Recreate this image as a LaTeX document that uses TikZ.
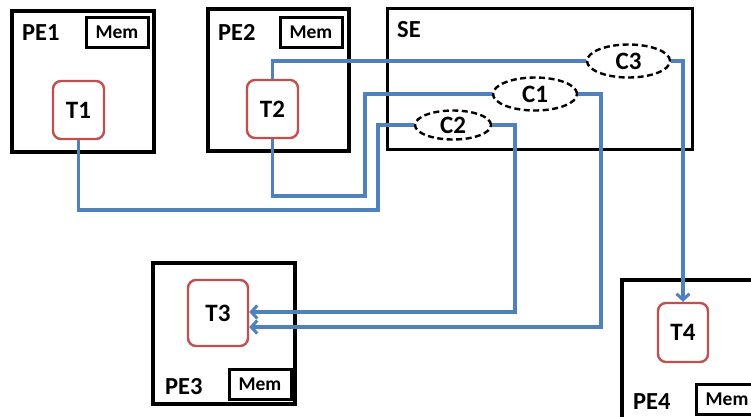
\documentclass[tikz,border=0pt]{standalone}
\usepackage{fontspec}
\setmainfont{Carlito}
\usetikzlibrary{arrows.meta,shapes.geometric,positioning}
\definecolor{linkblue}{HTML}{4F81BD}
\definecolor{taskred}{HTML}{C0504D}
\tikzset{
  pebox/.style={draw=black,line width=3.2pt,minimum width=#1,inner sep=0pt},
  membox/.style={draw=black,line width=3pt,minimum width=62pt,minimum height=30pt,inner sep=0pt,font=\fontsize{19.5}{19.5}\bfseries\selectfont},
  task/.style={draw=taskred,line width=2.4pt,rounded corners=8pt,minimum width=51pt,minimum height=58pt,inner sep=0pt,font=\fontsize{25}{25}\bfseries\selectfont},
  chan/.style={ellipse,draw=black,dash pattern=on 6pt off 3.5pt,line width=2.4pt,inner sep=0pt,font=\fontsize{25}{25}\bfseries\selectfont},
  lbl/.style={anchor=west,inner sep=0pt,font=\fontsize{24.5}{24.5}\bfseries\selectfont},
  link/.style={draw=linkblue,line width=3.4pt},
  tip/.style={-{Straight Barb[length=6pt,width=13pt,line width=3pt]}}
}
\begin{document}
\begin{tikzpicture}[x=1pt,y=-1pt]
\useasboundingbox (0,0) rectangle (751,416);
\clip (0,0) rectangle (751,416);
\fill[white] (0,0) rectangle (751,416);
% PE boxes
\node[pebox=142pt,minimum height=141pt] (pe1) at (83,81.5) {};
\node[pebox=141pt,minimum height=142pt] (pe2) at (278.5,80) {};
\node[pebox=305pt,minimum height=141pt,line width=3pt] (se) at (539.5,78.5) {};
\node[pebox=142pt,minimum height=141pt] (pe3) at (224,333.5) {};
\node[pebox=150pt,minimum height=150pt] (pe4) at (697,355) {};
% labels
\node[lbl] (l1) at (22,33) {PE1};
\node[lbl] (l2) at (218,32) {PE2};
\node[lbl] (lse) at (397,30) {SE};
\node[lbl] (l3) at (165,387) {PE3};
\node[lbl] (l4) at (633,402) {PE4};
% memories
\node[membox] (m1) at (117,32.5) {Mem};
\node[membox] (m2) at (311,32) {Mem};
\node[membox] (m3) at (260,384) {Mem};
\node[membox] (m4) at (727,399) {Mem};
% tasks
\node[task] (t1) at (78.5,110) {T1};
\node[task] (t2) at (272.5,109) {T2};
\node[task,minimum width=60pt,minimum height=66pt] (t3) at (218,313) {T3};
\node[task,minimum width=50pt,minimum height=59pt] (t4) at (683,332.5) {T4};
% channels
\node[chan,minimum width=83pt,minimum height=33pt] (c3) at (628.5,61) {C3};
\node[chan,minimum width=84pt,minimum height=33pt] (c1) at (535,94) {C1};
\node[chan,minimum width=76pt,minimum height=29pt] (c2) at (453,125) {C2};
% links
\draw[link] (t1.south) |- (378,210) |- (c2.west);
\draw[link] (t2.north) |- (c3.west);
\draw[link] (t2.south) |- (365,196) |- (c1.west);
\draw[link,tip] (c2.east) -| (515,312) -- (t3.east |- 0,312);
\draw[link,tip] (c1.east) -| (601,327) -- (t3.east |- 0,327);
\draw[link,tip] (c3.east) -| (t4.north);
\end{tikzpicture}
\end{document}
